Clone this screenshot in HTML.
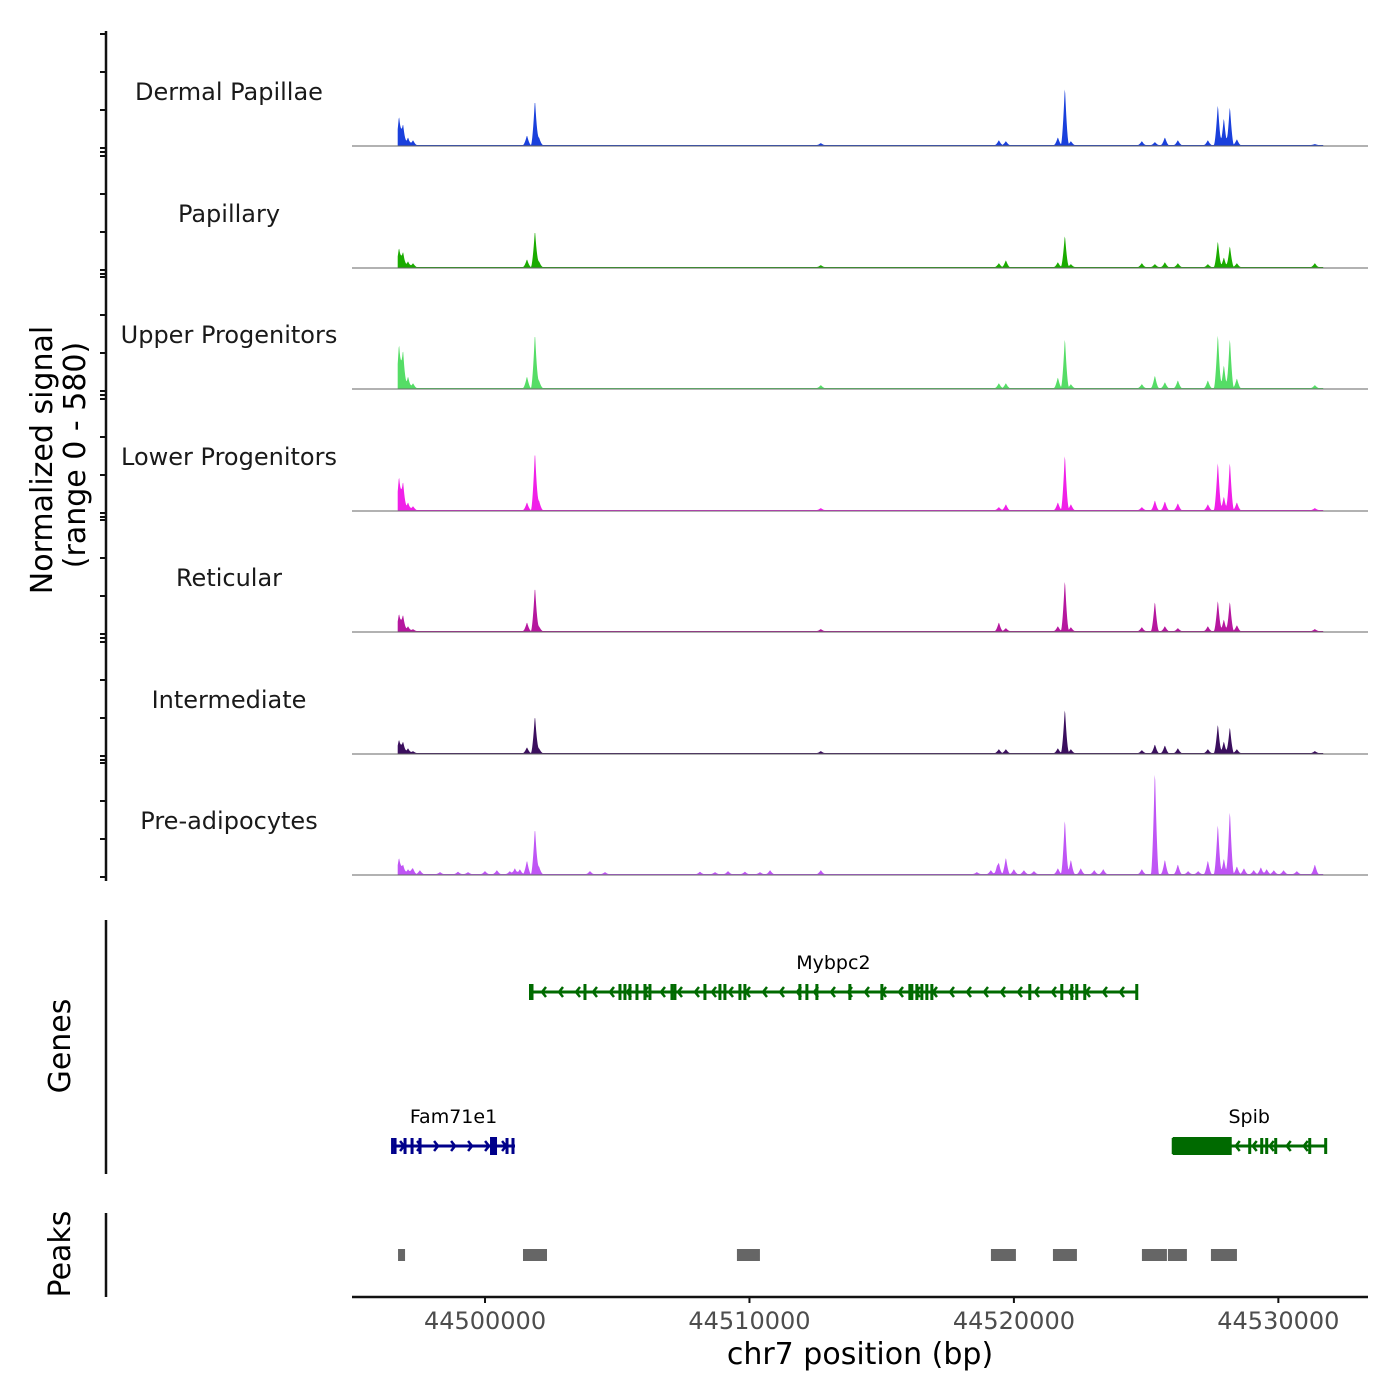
<!DOCTYPE html>
<html><head><meta charset="utf-8"><style>
body{margin:0;background:#fff;}
svg{display:block;font-family:"DejaVu Sans","Liberation Sans",sans-serif;}
</style></head><body>
<svg id="chart" width="1400" height="1400" viewBox="0 0 1400 1400" xmlns="http://www.w3.org/2000/svg">
<g id="tracks"></g>
<g id="genes"></g>
<g id="peaks"></g>
<g id="axes"></g>
</svg>
<script>
const BASE = 44500000;
const trackNames = ["Dermal Papillae","Papillary","Upper Progenitors","Lower Progenitors","Reticular","Intermediate","Pre-adipocytes"];
const trackColors = ["#1a40dc","#1aab00","#55dd66","#f020e8","#b5179e","#3b0f5e","#bf55f5"];
// peak centers (bp offset from 44,500,000)
const peakPos = [-3251,-3100,-2911,-2722,1588,1890,2041,12700,19433,19698,21664,21929,22156,24840,25333,25711,26202,27336,27714,27941,28168,28433,31382];
const dpVals  = [150,110,40,25,50,235,40,10,25,20,40,300,20,20,15,40,25,25,210,140,200,30,5];
const papVals = [100,80,30,20,40,190,30,10,20,35,25,165,15,20,15,25,20,15,135,50,110,20,20];
const upVals  = [230,200,60,25,60,285,40,15,25,25,55,260,20,20,65,30,40,40,280,120,260,50,15];
const lpVals  = [175,150,40,20,40,305,50,10,15,30,40,290,30,15,50,45,35,30,250,70,250,40,10];
const retVals = [90,85,25,10,45,230,25,10,45,15,25,265,20,20,155,25,15,25,160,60,155,30,10];
const intVals = [70,60,25,10,30,195,25,10,20,20,25,230,20,15,45,40,25,20,150,60,135,20,10];
const preVals = [85,50,25,20,70,240,40,20,50,85,30,285,75,25,540,75,50,70,260,80,330,40,50];
const trackVals = [dpVals,papVals,upVals,lpVals,retVals,intVals,preVals];
// minor bumps in pre-adipocytes
const preMinorPos = [-2760,-2460,-1700,-1020,-640,0,450,940,1130,1320,3970,4540,8130,8700,9190,9830,10400,10780,18600,19130,19360,20000,20380,20760,22530,23040,23380,26590,26970,28700,29070,29340,29560,29830,30200,30700];
const preMinorVals = [15,20,10,12,10,15,20,15,30,25,15,10,12,10,15,12,10,20,10,20,25,25,20,15,30,20,25,15,15,30,20,35,25,20,20,15];
const yMax = 580;
const xTickVals = [44500000,44510000,44520000,44530000];
const xDomain = [44494970,44533390];
const peakRegions = [[-3289,-3024],[1436,2344],[9526,10396],[19131,20076],[21476,22383],[24841,25786],[25824,26542],[27451,28434]];
const genes = [
 {name:"Mybpc2",start:1701,end:24646,strand:-1,color:"#006a00",row:0,thick:[],exons:[1777,3780,5103,5292,5481,5746,6048,6237,7069,7182,8316,8883,9072,9639,9828,11907,12172,12550,13797,15007,16065,16141,16330,16519,16708,16897,20601,21811,22189,22378,22680,24646]},
 {name:"Fam71e1",start:-3515,end:1134,strand:1,color:"#00008b",row:1,thick:[[189,454]],exons:[-3402,-3024,-2759,-2457,832,1058]},
 {name:"Spib",start:26006,end:31790,strand:-1,color:"#006a00",row:1,thick:[[26006,28237]],exons:[28917,29371,29560,29900,31186,31790]}
];
const NS="http://www.w3.org/2000/svg";
const X0=352,X1=1368;
function xs(bp){return X0+(bp-xDomain[0])/(xDomain[1]-xDomain[0])*(X1-X0);}
function mk(tag,attrs,parent){const e=document.createElementNS(NS,tag);for(const k in attrs)e.setAttribute(k,attrs[k]);parent.appendChild(e);return e;}
const baselines=[146,268,389,511,632,754,875];
const TH=115;
function ys(v,b){return b-v/yMax*TH;}
const tracksG=document.getElementById('tracks');
const halfW=150;
for(let t=0;t<7;t++){
  const b=baselines[t];
  const vals=trackVals[t];
  const pos=peakPos.slice(), hs=vals.slice();
  if(t===6){for(let i=0;i<preMinorPos.length;i++){pos.push(preMinorPos[i]);hs.push(preMinorVals[i]);}}
  let pts=[];
  const xStart=xs(BASE-3300), xEnd=xs(BASE+31700);
  pts.push(xStart.toFixed(1)+","+b);
  for(let px=xStart;px<=xEnd;px+=0.5){
    const bp=xDomain[0]+(px-X0)/(X1-X0)*(xDomain[1]-xDomain[0])-BASE;
    let v=5;
    for(let i=0;i<pos.length;i++){const d=Math.abs(bp-pos[i]);if(d<halfW)v+=hs[i]*Math.pow(1-d/halfW,1.6);}
    pts.push(px.toFixed(1)+","+ys(v,b).toFixed(1));
  }
  pts.push(xEnd.toFixed(1)+","+b);
  const poly=mk('polygon',{points:pts.join(' '),fill:trackColors[t]},tracksG);
  
  
  const bl=mk('line',{x1:X0,x2:X1,y1:b,y2:b,stroke:"#666","stroke-width":1},tracksG);
  
  
  const lab=mk('text',{x:229,y:b-54+8,"text-anchor":"middle","font-size":24,fill:"#1a1a1a"},tracksG);
  lab.textContent=trackNames[t];
  
  
}
// genes
const genesG=document.getElementById('genes');
const rowY=[992,1146];
genes.forEach(g=>{
  const y=rowY[g.row], c=g.color;
  const gg=mk('g',{},genesG);
  
  
  const x1=xs(BASE+g.start),x2=xs(BASE+g.end);
  mk('line',{x1:x1,x2:x2,y1:y,y2:y,stroke:c,"stroke-width":3},gg);
  for(let px=x1+12;px<x2-6;px+=17){
    const d=g.strand<0?4:-4;
    mk('polyline',{points:(px+d)+","+(y-5)+" "+px+","+y+" "+(px+d)+","+(y+5),fill:"none",stroke:c,"stroke-width":2.5},gg);
  }
  g.exons.forEach(e=>{const px=xs(BASE+e);mk('rect',{x:px-1.5,y:y-8,width:3,height:16,fill:c},gg);});
  mk('rect',{x:x1-1,y:y-8,width:2.5,height:16,fill:c},gg);
  g.thick.forEach(r=>{const a=xs(BASE+r[0]),bb=xs(BASE+r[1]);mk('rect',{x:a,y:y-9,width:bb-a,height:18,fill:c},gg);});
  const t=mk('text',{x:(x1+x2)/2,y:y-23,"text-anchor":"middle","font-size":19,fill:"#000"},gg);
  t.textContent=g.name;
});
// peaks
const peaksG=document.getElementById('peaks');
peakRegions.forEach(r=>{
  const a=xs(BASE+r[0]),bb=xs(BASE+r[1]);
  const rc=mk('rect',{x:a,y:1249,width:Math.max(bb-a,6),height:12,fill:"#666"},peaksG);
  
  
});
// axes
const ax=document.getElementById('axes');
mk('line',{x1:106,x2:106,y1:31,y2:881,stroke:"#111","stroke-width":2.5},ax);
baselines.forEach((b,i)=>{
  [0,38,76,114].forEach(o=>mk('line',{x1:100,x2:106,y1:b-o+2,y2:b-o+2,stroke:"#111","stroke-width":2},ax));
  if(i<6) mk('line',{x1:100,x2:106,y1:b+6,y2:b+6,stroke:"#111","stroke-width":2},ax);
});
mk('line',{x1:106,x2:106,y1:920,y2:1174,stroke:"#111","stroke-width":2.5},ax);
mk('line',{x1:106,x2:106,y1:1213,y2:1297,stroke:"#111","stroke-width":2.5},ax);
mk('line',{x1:X0,x2:X1,y1:1297,y2:1297,stroke:"#111","stroke-width":2.5},ax);
xTickVals.forEach(v=>{
  const px=xs(v);
  mk('line',{x1:px,x2:px,y1:1297,y2:1303,stroke:"#111","stroke-width":2},ax);
  const t=mk('text',{x:px,y:1329,"text-anchor":"middle","font-size":24,fill:"#4d4d4d"},ax);
  t.textContent=v;
  
  
});
</script>
<div style="position:absolute;left:0;top:0;width:1400px;height:1400px;pointer-events:none">
<svg width="1400" height="1400" style="position:absolute;left:0;top:0;font-family:'DejaVu Sans','Liberation Sans',sans-serif">
<text x="860" y="1364" text-anchor="middle" font-size="30" fill="#000">chr7 position (bp)</text>
<text transform="translate(52,460) rotate(-90)" text-anchor="middle" font-size="30" fill="#000">Normalized signal</text>
<text transform="translate(85,455) rotate(-90)" text-anchor="middle" font-size="30" fill="#000">(range 0 - 580)</text>
<text transform="translate(70,1046) rotate(-90)" text-anchor="middle" font-size="30" fill="#000">Genes</text>
<text transform="translate(70,1254) rotate(-90)" text-anchor="middle" font-size="30" fill="#000">Peaks</text>
</svg></div>
</body></html>
